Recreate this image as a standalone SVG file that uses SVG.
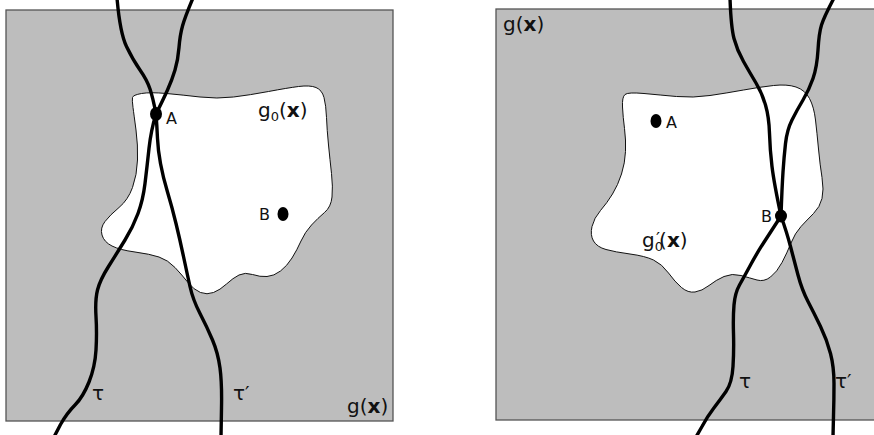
<svg xmlns="http://www.w3.org/2000/svg" width="874" height="435" viewBox="0 0 874 435">
<style>
.bg{fill:#bdbdbd;stroke:#555;stroke-width:1.3}
.blob{fill:#fff;stroke:#111;stroke-width:1}
.path{fill:none;stroke:#000;stroke-width:3.4;stroke-linecap:butt;stroke-linejoin:round}
.dot{fill:#000}
.lbl{font-family:"DejaVu Sans",sans-serif;font-size:16px;fill:#111}
.fn{font-family:"DejaVu Sans",sans-serif;font-size:20px;fill:#111}
.sub{font-size:13px}
.pr{font-size:18px}
.b{font-weight:bold}
</style>
<g id="panel-left">
  <rect id="domain-left" class="bg" x="6" y="10" width="387" height="411"/>
  <path id="region-left" class="blob" d="M132.5,97.5 Q133,95 141.5,93.5 Q150,92 166.5,93.5 Q183,95 200,97 Q217,99 233.5,97 Q250,95 268.5,91.5 Q287,88 298.5,86.5 Q310,85 316,87.5 Q322,90 324,97.5 Q326,105 326.5,117.5 Q327,130 328.5,145 Q330,160 331.5,173.5 Q333,187 332,197 Q331,207 324.5,212.5 Q318,218 311.5,225 Q305,232 301,241 Q297,250 292,258 Q287,266 280.5,271 Q274,276 267,276.5 Q260,277 252.5,274.5 Q245,272 239,275 Q233,278 226.5,284 Q220,290 213.5,292.5 Q207,295 200.5,292.5 Q194,290 188,282.5 Q182,275 175,267.5 Q168,260 159,257 Q150,254 135,252 Q120,250 112,246 Q104,242 102,235 Q100,228 105,221.5 Q110,215 119,207.5 Q128,200 132.5,187.5 Q137,175 137.5,160 Q138,145 136,130 Q134,115 133,107.5 Q132,100 132.5,97.5 Z"/>
</g>
<g id="panel-right">
  <rect id="domain-right" class="bg" x="496" y="9" width="390" height="411"/>
  <path id="region-right" class="blob" d="M622.5,107 Q622,97 625,94.5 Q628,92 644,93.5 Q660,95 676.5,96.5 Q693,98 710,95.5 Q727,93 743.5,90 Q760,87 773.5,85.5 Q787,84 796,87 Q805,90 809.5,98.5 Q814,107 815.5,120 Q817,133 818.5,149 Q820,165 822,177.5 Q824,190 822,198.5 Q820,207 813.5,213.5 Q807,220 801,226.5 Q795,233 791,243 Q787,253 782,262.5 Q777,272 770.5,277 Q764,282 757,280 Q750,278 741,275.5 Q732,273 724,276.5 Q716,280 709,285.5 Q702,291 695,292 Q688,293 681.5,287.5 Q675,282 668.5,273 Q662,264 653.5,260 Q645,256 630,254 Q615,252 606,249.5 Q597,247 593.5,241 Q590,235 592,226.5 Q594,218 600.5,210.5 Q607,203 612.5,194 Q618,185 621.5,174 Q625,163 625.5,151.5 Q626,140 624.5,128.5 Q623,117 622.5,107 Z"/>
</g>
<g id="connectors">
  <path id="tau-left" class="path" d="M117,-2 Q120,33 126.5,46.5 Q133,60 140,70 Q147,80 150,89 Q153,98 156,114 Q151,130 149,148.5 Q147,167 145,183.5 Q143,200 138,213.5 Q133,227 125,240 Q117,253 108.5,266.5 Q100,280 97.5,290 Q95,300 96,316.5 Q97,333 96,350 Q95,367 89,382 Q83,397 75,405 Q67,413 60.5,424.5 L54,437"/>
  <path id="tauprime-left" class="path" d="M193,-2 Q185,17 182.5,26 Q180,35 179,47.5 Q178,60 175,70 Q172,80 167.5,90 Q163,100 156,114 Q157,127 157.5,138.5 Q158,150 160.5,163.5 Q163,177 167.5,192 Q172,207 176,223.5 Q180,240 183.5,256.5 Q187,273 190,286.5 Q193,300 200,313.5 Q207,327 212.5,340 Q218,353 220,368 Q222,383 221.5,408 L221,437"/>
  <path id="tau-right" class="path" d="M730,-2 Q731,27 734,38.5 Q737,50 743.5,61.5 Q750,73 756,83 Q762,93 765.5,105 Q769,117 769.5,133.5 Q770,150 772,166.5 Q774,183 781,216 Q770,233 763.5,243 Q757,253 750.5,265 Q744,277 739.5,285 Q735,293 734,305 Q733,317 733.5,333.5 Q734,350 733,366.5 Q732,383 726,391.5 Q720,400 713.5,408.5 Q707,417 702,426.5 L696,437"/>
  <path id="tauprime-right" class="path" d="M834,-2 Q824,17 821.5,25 Q819,33 818,50 Q817,67 813,78.5 Q809,90 803,100 Q797,110 792,120 Q787,130 785.5,143.5 Q784,157 783,172 Q782,187 781,216 Q787,233 790.5,246.5 Q794,260 798,275 Q802,290 808,301.5 Q814,313 820.5,326.5 Q827,340 830.5,353.5 Q834,367 834,383.5 Q834,400 833.5,416 L833,437"/>
</g>
<g id="point-A-left"><ellipse class="dot" cx="156" cy="114" rx="6" ry="7"/><text class="lbl" x="166" y="124">A</text></g>
<g id="point-B-left"><ellipse class="dot" cx="283" cy="214" rx="5.5" ry="7"/><text class="lbl" x="259" y="220">B</text></g>
<g id="point-A-right"><ellipse class="dot" cx="656" cy="121" rx="5.5" ry="7"/><text class="lbl" x="666" y="128">A</text></g>
<g id="point-B-right"><ellipse class="dot" cx="781" cy="216" rx="6" ry="6.5"/><text class="lbl" x="761" y="222">B</text></g>
<g id="labels">
  <text class="fn" x="258" y="117">g<tspan class="sub" dy="4">0</tspan><tspan dy="-4">(</tspan><tspan class="b">x</tspan>)</text>
  <text class="fn" x="347" y="413">g(<tspan class="b">x</tspan>)</text>
  <text class="fn" x="503" y="31">g(<tspan class="b">x</tspan>)</text>
  <text class="fn" x="642" y="247">g<tspan class="sub" dy="4">0</tspan><tspan class="pr" dx="-7" dy="-6">′</tspan><tspan dx="-1" dy="2">(</tspan><tspan class="b">x</tspan>)</text>
  <text class="fn" x="92" y="400">τ<tspan dx="129">τ′</tspan></text>
  <text class="fn" x="739" y="388">τ<tspan dx="84">τ′</tspan></text>
</g>
</svg>
